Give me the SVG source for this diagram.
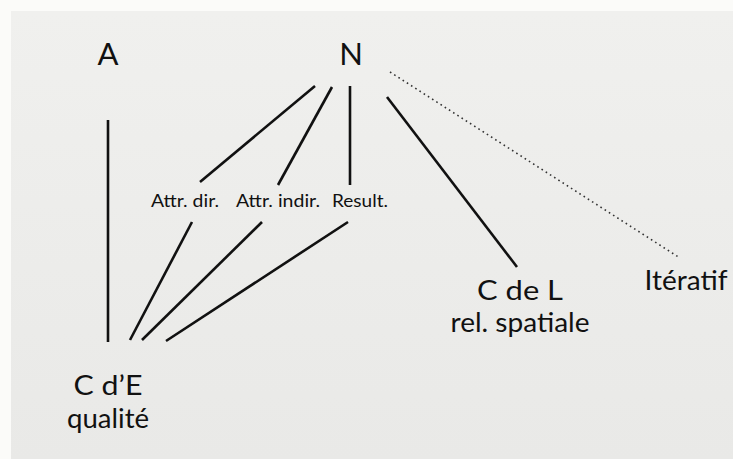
<svg xmlns="http://www.w3.org/2000/svg" width="733" height="459" viewBox="0 0 733 459">
<defs>
<linearGradient id="bg" x1="0" y1="0" x2="0" y2="1">
<stop offset="0" stop-color="#f0f0ee"/>
<stop offset="1" stop-color="#e9e9e7"/>
</linearGradient>
</defs>
<style>
.t{font-family:Lato,"Open Sans","Liberation Sans",sans-serif;fill:#111;text-anchor:middle;font-weight:400}
.big{font-size:31px}
.mid{font-size:27px}
.sm{font-size:17px}
.ln{stroke:#111;stroke-width:2.6;fill:none;stroke-linecap:butt}
.dot{stroke:#333;stroke-width:1.6;fill:none;stroke-dasharray:1.6 3.4}
</style>
<rect x="0" y="0" width="733" height="459" fill="#fbfbf9"/>
<rect x="11" y="11" width="722" height="448" fill="url(#bg)"/>
<g id="connectors">
<line class="ln" x1="108" y1="120" x2="108" y2="342"/>
<line class="ln" x1="315" y1="86" x2="200" y2="182"/>
<line class="ln" x1="332" y1="87" x2="278" y2="185"/>
<line class="ln" x1="350" y1="86" x2="350" y2="185"/>
<line class="ln" x1="387" y1="97" x2="517" y2="267"/>
<line class="dot" x1="390" y1="72" x2="680" y2="258"/>
<line class="ln" x1="192" y1="222" x2="130" y2="340"/>
<line class="ln" x1="262" y1="222" x2="142" y2="340"/>
<line class="ln" x1="348" y1="222" x2="166" y2="341"/>
</g>
<g id="node-A"><text class="t big" x="108" y="65">A</text></g>
<g id="node-N"><text class="t big" x="351" y="65">N</text></g>
<g id="node-attr-dir"><text class="t sm" x="185" y="207" textLength="68" lengthAdjust="spacingAndGlyphs">Attr. dir.</text></g>
<g id="node-attr-indir"><text class="t sm" x="278" y="207" textLength="84" lengthAdjust="spacingAndGlyphs">Attr. indir.</text></g>
<g id="node-result"><text class="t sm" x="360" y="207" textLength="56" lengthAdjust="spacingAndGlyphs">Result.</text></g>
<g id="node-CdE"><text class="t mid" x="108" y="395" textLength="69" lengthAdjust="spacingAndGlyphs">C d’E</text><text class="t mid" x="108" y="428" textLength="82" lengthAdjust="spacingAndGlyphs">qualité</text></g>
<g id="node-CdL"><text class="t mid" x="520" y="300" textLength="86" lengthAdjust="spacingAndGlyphs">C de L</text><text class="t mid" x="520" y="332" textLength="139" lengthAdjust="spacingAndGlyphs">rel. spatiale</text></g>
<g id="node-iteratif"><text class="t mid" x="686" y="290" textLength="83" lengthAdjust="spacingAndGlyphs">Itératif</text></g>
</svg>
